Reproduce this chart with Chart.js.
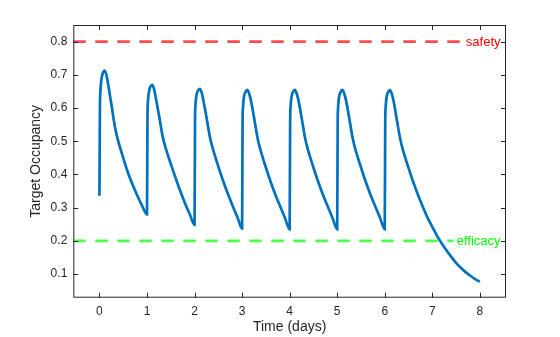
<!DOCTYPE html>
<html>
<head>
<meta charset="utf-8">
<script src="https://cdn.jsdelivr.net/npm/chart.js@4/dist/chart.umd.min.js"></script>
<style>
    html, body { margin: 0; padding: 0; background: #ffffff; }
    canvas { display: block; }
</style>
</head>
<body>
<canvas id="occupancyChart" width="560" height="337"></canvas>
<script>
// dosing simulation: one dose per day for 7 days, then washout to day 8
const days = [
    0, 0.01, 0.02, 0.04, 0.07, 0.11, 0.15, 0.19, 0.25, 0.33, 0.4, 0.5, 0.6, 0.7, 0.8, 0.9,
    1, 1.01, 1.02, 1.04, 1.07, 1.11, 1.15, 1.19, 1.25, 1.33, 1.4, 1.5, 1.6, 1.7, 1.8, 1.9,
    2, 2.01, 2.02, 2.04, 2.07, 2.11, 2.15, 2.19, 2.25, 2.33, 2.4, 2.5, 2.6, 2.7, 2.8, 2.9,
    3, 3.01, 3.02, 3.04, 3.07, 3.11, 3.15, 3.19, 3.25, 3.33, 3.4, 3.5, 3.6, 3.7, 3.8, 3.9,
    4, 4.01, 4.02, 4.04, 4.07, 4.11, 4.15, 4.19, 4.25, 4.33, 4.4, 4.5, 4.6, 4.7, 4.8, 4.9,
    5, 5.01, 5.02, 5.04, 5.07, 5.11, 5.15, 5.19, 5.25, 5.33, 5.4, 5.5, 5.6, 5.7, 5.8, 5.9,
    6, 6.01, 6.02, 6.04, 6.07, 6.11, 6.15, 6.19, 6.25, 6.33, 6.4, 6.5, 6.6, 6.7, 6.8, 6.9,
    7, 7.1, 7.2, 7.3, 7.4, 7.5, 7.6, 7.7, 7.8, 7.9, 8
];

const occupancy = [
    0.336, 0.600, 0.650, 0.685, 0.705, 0.713, 0.698, 0.665, 0.612, 0.540, 0.498, 0.450, 0.405, 0.368, 0.335, 0.305,
    0.280, 0.570, 0.620, 0.648, 0.664, 0.670, 0.656, 0.627, 0.580, 0.514, 0.476, 0.432, 0.390, 0.350, 0.313, 0.280,
    0.248, 0.560, 0.610, 0.638, 0.652, 0.658, 0.646, 0.620, 0.573, 0.508, 0.470, 0.424, 0.381, 0.342, 0.306, 0.272,
    0.237, 0.555, 0.605, 0.634, 0.648, 0.655, 0.643, 0.620, 0.572, 0.506, 0.467, 0.421, 0.378, 0.339, 0.304, 0.270,
    0.235, 0.555, 0.605, 0.634, 0.648, 0.655, 0.643, 0.620, 0.572, 0.506, 0.467, 0.421, 0.378, 0.339, 0.304, 0.270,
    0.235, 0.555, 0.605, 0.634, 0.648, 0.655, 0.643, 0.620, 0.572, 0.506, 0.467, 0.421, 0.378, 0.339, 0.304, 0.270,
    0.235, 0.555, 0.605, 0.634, 0.648, 0.654, 0.642, 0.618, 0.568, 0.504, 0.465, 0.420, 0.377, 0.338, 0.303, 0.270,
    0.242, 0.215, 0.192, 0.171, 0.152, 0.134, 0.119, 0.106, 0.095, 0.085, 0.077
];

// horizontal reference levels
const thresholdValues = [0.8, 0.2];
const thresholdLabels = ["safety", "efficacy"];

const xTicks = [0, 1, 2, 3, 4, 5, 6, 7, 8];
const yTicks = [0.1, 0.2, 0.3, 0.4, 0.5, 0.6, 0.7, 0.8];

document.addEventListener("DOMContentLoaded", function () {

    const axisColor = "#262626";
    const fontFamily = "'Liberation Sans', Arial, Helvetica, sans-serif";
    const thresholdColors = [
        { line: "rgba(255, 0, 0, 0.7)", text: "#ff0000" },
        { line: "rgba(0, 255, 0, 0.7)", text: "#00ff00" }
    ];

    // ===============================
    // dashed threshold lines with labels on the right
    // ===============================
    const yLinePlugin = {
        id: "yLines",
        beforeDatasetsDraw(chart) {
            const { ctx, chartArea, scales } = chart;
            ctx.save();
            ctx.font = "13px " + fontFamily;
            thresholdValues.forEach(function (value, i) {
                const y = scales.y.getPixelForValue(value);
                const label = thresholdLabels[i];
                const textRight = chartArea.right - 5.5;
                const textLeft = textRight - ctx.measureText(label).width;

                ctx.strokeStyle = thresholdColors[i].line;
                ctx.lineWidth = 2.7;
                ctx.setLineDash([12.5, 9.5]);
                ctx.beginPath();
                ctx.moveTo(chartArea.left, y);
                ctx.lineTo(textLeft - 3, y);
                ctx.stroke();

                ctx.setLineDash([]);
                ctx.fillStyle = thresholdColors[i].text;
                ctx.textAlign = "right";
                ctx.textBaseline = "middle";
                ctx.fillText(label, textRight, y + 1);
            });
            ctx.restore();
        }
    };

    // ===============================
    // axes box with inward tick marks
    // ===============================
    const boxPlugin = {
        id: "axesBox",
        afterDraw(chart) {
            const { ctx, chartArea, scales } = chart;
            const len = 5;
            ctx.save();
            ctx.strokeStyle = axisColor;
            ctx.lineWidth = 1;
            ctx.strokeRect(chartArea.left + 0.5, chartArea.top + 0.5,
                chartArea.right - chartArea.left - 1, chartArea.bottom - chartArea.top - 1);
            ctx.beginPath();
            xTicks.forEach(function (v) {
                const x = Math.round(scales.x.getPixelForValue(v)) + 0.5;
                ctx.moveTo(x, chartArea.bottom);
                ctx.lineTo(x, chartArea.bottom - len);
                ctx.moveTo(x, chartArea.top);
                ctx.lineTo(x, chartArea.top + len);
            });
            yTicks.forEach(function (v) {
                const y = Math.round(scales.y.getPixelForValue(v)) + 0.5;
                ctx.moveTo(chartArea.left, y);
                ctx.lineTo(chartArea.left + len, y);
                ctx.moveTo(chartArea.right, y);
                ctx.lineTo(chartArea.right - len, y);
            });
            ctx.stroke();
            ctx.restore();
        }
    };

    const points = days.map(function (d, i) {
        return { x: d, y: occupancy[i] };
    });

    const occCtx = document.getElementById("occupancyChart");

    new Chart(occCtx, {
        type: "line",
        data: {
            datasets: [{
                label: "Target Occupancy",
                data: points,
                borderColor: "#0072BD",
                borderWidth: 2.7,
                pointRadius: 0,
                cubicInterpolationMode: "monotone",
                fill: false
            }]
        },
        options: {
            responsive: false,
            animation: false,
            layout: {
                padding: { left: 0, right: 54, top: 25, bottom: 0 }
            },
            plugins: {
                legend: { display: false },
                tooltip: { enabled: false }
            },
            scales: {
                x: {
                    type: "linear",
                    min: -0.55,
                    max: 8.55,
                    grid: { display: false, drawTicks: false },
                    border: { display: false },
                    afterBuildTicks: function (scale) {
                        scale.ticks = xTicks.map(function (v) { return { value: v }; });
                    },
                    afterFit: function (scale) {
                        scale.height = 39.3;
                    },
                    ticks: {
                        padding: 7,
                        color: axisColor,
                        maxRotation: 0,
                        font: { size: 12, family: fontFamily }
                    },
                    title: {
                        display: true,
                        text: "Time (days)",
                        color: axisColor,
                        font: { size: 14, family: fontFamily },
                        padding: { top: 0, bottom: 1 }
                    }
                },
                y: {
                    type: "linear",
                    min: 0.029,
                    max: 0.85,
                    grid: { display: false, drawTicks: false },
                    border: { display: false },
                    afterBuildTicks: function (scale) {
                        scale.ticks = yTicks.map(function (v) { return { value: v }; });
                    },
                    afterFit: function (scale) {
                        scale.width = 73.3;
                    },
                    ticks: {
                        padding: 6,
                        color: axisColor,
                        font: { size: 12, family: fontFamily },
                        callback: function (v) { return v.toFixed(1); }
                    },
                    title: {
                        display: true,
                        text: "Target Occupancy",
                        color: axisColor,
                        font: { size: 14, family: fontFamily },
                        padding: { top: 28, bottom: 0 }
                    }
                }
            }
        },
        plugins: [yLinePlugin, boxPlugin]
    });

});
</script>
</body>
</html>
